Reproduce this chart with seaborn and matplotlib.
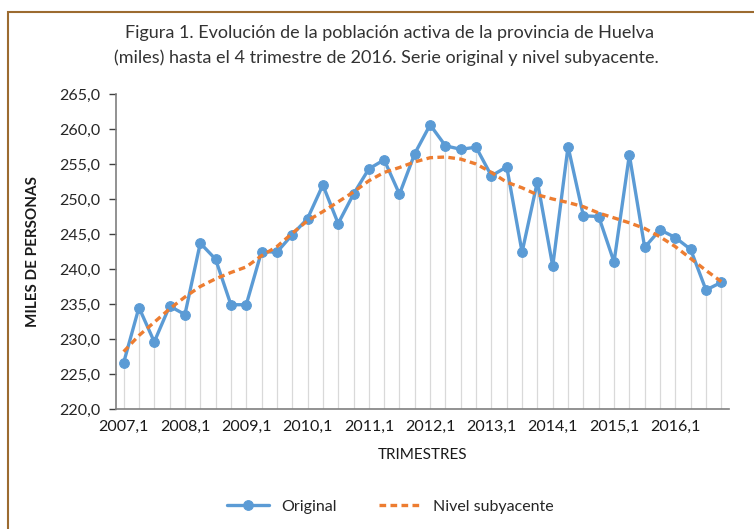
import matplotlib
matplotlib.use("Agg")
import matplotlib.pyplot as plt
import matplotlib.patches as mpatches
import numpy as np
import pandas as pd
import seaborn as sns

# datos (miles de personas), 2007,1 ... 2016,4
years = list(range(2007, 2017))
quarters = [f"{y},{q}" for y in years for q in range(1, 5)]
original = [226.6, 234.5, 229.6, 234.7, 233.5, 243.7, 241.4, 234.9,
            234.9, 242.5, 242.4, 244.9, 247.2, 252.0, 246.5, 250.7,
            254.3, 255.6, 250.7, 256.5, 260.6, 257.6, 257.1, 257.4,
            253.3, 254.6, 242.4, 252.5, 240.4, 257.5, 247.6, 247.5,
            241.0, 256.3, 243.1, 245.6, 244.5, 242.8, 237.0, 238.1]
nivel = [228.2, 230.5, 232.4, 234.3, 236.0, 237.5, 238.6, 239.5,
         240.3, 241.9, 243.2, 245.1, 246.9, 248.2, 249.6, 251.0,
         252.6, 253.8, 254.5, 255.3, 255.9, 256.0, 255.7, 255.0,
         253.8, 252.4, 251.6, 250.6, 250.0, 249.5, 248.9, 248.0,
         247.3, 246.6, 245.8, 244.6, 243.2, 241.5, 239.8, 238.2]
y_ticks = [220, 225, 230, 235, 240, 245, 250, 255, 260, 265]

df = pd.DataFrame({"trimestre": quarters, "Original": original, "Nivel subyacente": nivel})
df["pos"] = np.arange(len(df))

sns.set_style("white")
plt.rcParams["font.family"] = ["Lato", "DejaVu Sans"]

azul = "#5B9BD5"
naranja = "#ED7D31"
gris = "#7f7f7f"

fig = plt.figure(figsize=(7.54, 5.29), dpi=100)
ax = fig.add_axes([0.1538, 0.2268, 0.8130, 0.5955])

# lineas de proyeccion (drop lines)
ax.vlines(df["pos"], 220, df["Original"], color="#d9d9d9", lw=0.9, zorder=1)

sns.lineplot(data=df, x="pos", y="Original", ax=ax, color=azul, lw=2.4,
             marker="o", markersize=7, markeredgecolor=azul, label="Original", zorder=3)
sns.lineplot(data=df, x="pos", y="Nivel subyacente", ax=ax, color=naranja, lw=2.4,
             linestyle=(0, (2.0, 1.3)), label="Nivel subyacente", zorder=4)

ax.set_xlim(-0.5, len(df) - 0.5)
ax.set_ylim(220, 265)
ax.set_yticks(y_ticks)
ax.set_yticklabels([f"{v:.1f}".replace(".", ",") for v in y_ticks], fontsize=11.5, color="#262626")

ax.set_xticks(np.arange(-0.5, len(df), 4))
ax.set_xticklabels([])
lab_pos = df["pos"][::4]
ax.set_xticks(lab_pos, minor=True)
ax.set_xticklabels(df["trimestre"][::4], minor=True, fontsize=11.5, color="#1a1a1a")
ax.tick_params(axis="x", which="minor", length=0, pad=8)
ax.tick_params(axis="x", which="major", length=5, width=1, color="#404040", direction="out")
ax.tick_params(axis="y", length=5, width=1, color="#404040", direction="out", pad=6, left=True)

sns.despine(ax=ax)
for s in ["left", "bottom"]:
    ax.spines[s].set_color(gris)
    ax.spines[s].set_linewidth(1.2)

ax.set_xlabel("TRIMESTRES", fontsize=11, color="#1a1a1a", labelpad=10)
ax.set_ylabel("MILES DE PERSONAS", fontsize=11, color="#1a1a1a", fontweight="bold", labelpad=14)

fig.text(0.517, 0.938, "Figura 1. Evolución de la población activa de la provincia de Huelva",
         ha="center", va="center", fontsize=13, color="#333333")
fig.text(0.512, 0.890, "(miles) hasta el 4 trimestre de 2016. Serie original y nivel subyacente.",
         ha="center", va="center", fontsize=13, color="#333333")

ax.legend(loc="center", ncol=2, frameon=False, fontsize=11.5, handlelength=2.6,
          columnspacing=2.6, handletextpad=0.8, borderaxespad=0)
leg = ax.get_legend()
leg.set_bbox_to_anchor((0.518, 0.042), transform=fig.transFigure)

# marco exterior
fig.patches.append(mpatches.Rectangle((8 / 754, -0.05), 1.2, (529 - 12) / 529 + 0.05,
                                      transform=fig.transFigure, fill=False,
                                      edgecolor="#9c6b30", lw=1.5))

fig.savefig("out.png", dpi=100)
